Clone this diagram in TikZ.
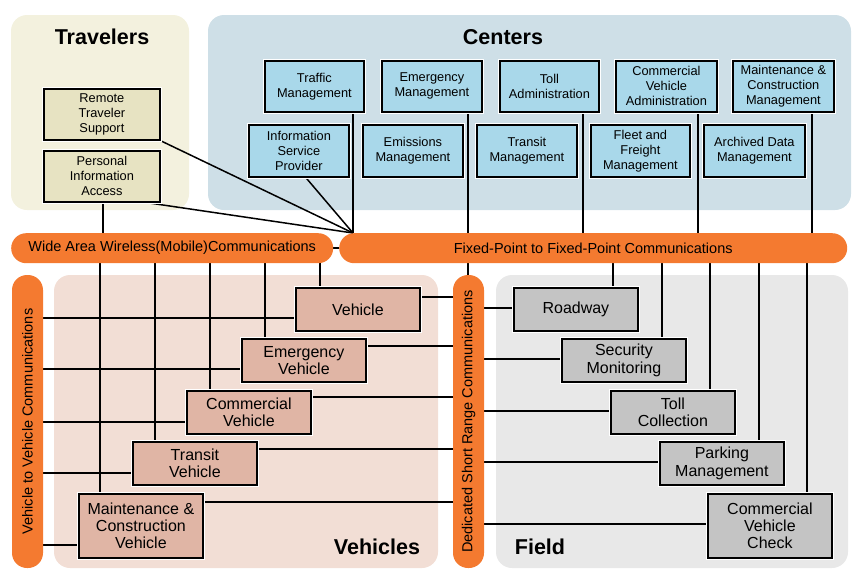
\documentclass[tikz,border=0pt]{standalone}
\usepackage{fontspec}
\setmainfont{Liberation Sans}
\definecolor{travbg}{HTML}{F3F1DE}
\definecolor{travbox}{HTML}{E7E3C2}
\definecolor{centbg}{HTML}{CEDFE7}
\definecolor{centbox}{HTML}{A9D8EA}
\definecolor{vehbg}{HTML}{F2DED5}
\definecolor{vehbox}{HTML}{E0B5A5}
\definecolor{fldbg}{HTML}{E8E8E8}
\definecolor{fldbox}{HTML}{C4C4C4}
\definecolor{busor}{HTML}{F47A30}
\pgfdeclarelayer{regions}
\pgfdeclarelayer{wires}
\pgfsetlayers{regions,wires,main}
\begin{document}
\begin{tikzpicture}[x=1pt,y=-1pt,
  region/.style={rounded corners=16pt},
  box/.style={draw=black, line width=1.8pt, anchor=north west, inner sep=0pt, align=center,
     preaction={draw=white, line width=4pt}},
  sbox/.style={box, font=\fontsize{12.8}{15}\selectfont},
  lbox/.style={box, font=\fontsize{16}{17.3}\selectfont},
  tbox/.style={sbox, fill=travbox},
  cbox/.style={sbox, fill=centbox},
  vbox/.style={lbox, fill=vehbox},
  fbox/.style={lbox, fill=fldbox},
  bus/.style={fill=busor, rounded corners=15pt, inner sep=0pt, font=\fontsize{14.5}{16}\selectfont},
  title/.style={font=\fontsize{21.5}{24}\selectfont\bfseries},
  wire/.style={line width=1.5pt}]
\useasboundingbox (0,0) rectangle (862,573);

% regions
\begin{pgfonlayer}{regions}
\fill[region, travbg] (11,15) rectangle (189,210);
\fill[region, centbg] (208,15) rectangle (851,210);
\fill[region, vehbg] (54,275) rectangle (438,568);
\fill[region, fldbg] (496,275) rectangle (848,568);
\end{pgfonlayer}

% titles
\node[title] (ttrav) at (102,37) {Travelers};
\node[title] (tcent) at (503,37) {Centers};
\node[title] (tveh) at (377,547) {Vehicles};
\node[title] (tfld) at (540,547) {Field};

% travelers
\node[tbox, minimum width=116pt, minimum height=51pt] (rts) at (43,88) {Remote\\Traveler\\Support};
\node[tbox, minimum width=116pt, minimum height=51pt] (pia) at (43,150) {Personal\\Information\\Access};

% centers
\node[cbox, minimum width=99pt, minimum height=51pt] (tm) at (264,60) {Traffic\\Management};
\node[cbox, minimum width=100pt, minimum height=52pt] (isp) at (248,124) {Information\\Service\\Provider};
\node[cbox, minimum width=100pt, minimum height=51pt] (em) at (381,60) {Emergency\\Management};
\node[cbox, minimum width=100pt, minimum height=52pt] (emis) at (362,124) {Emissions\\Management};
\node[cbox, minimum width=99pt, minimum height=51pt] (ta) at (499,60) {Toll\\Administration};
\node[cbox, minimum width=100pt, minimum height=52pt] (trm) at (476,124) {Transit\\Management};
\node[cbox, minimum width=101pt, minimum height=51pt] (cva) at (615,60) {Commercial\\Vehicle\\Administration};
\node[cbox, minimum width=99pt, minimum height=52pt] (ffm) at (590,124) {Fleet and\\Freight\\Management};
\node[cbox, minimum width=101pt, minimum height=51pt] (mcm) at (732,60) {Maintenance \&\\Construction\\Management};
\node[cbox, minimum width=101pt, minimum height=52pt] (adm) at (703,124) {Archived Data\\Management};

% buses
\node[bus, anchor=north west, minimum width=322pt, minimum height=30pt] (wide) at (11,233) {Wide Area Wireless(Mobile)Communications};
\node[bus, anchor=north west, minimum width=508pt, minimum height=30pt] (fixed) at (339,233) {Fixed-Point to Fixed-Point Communications};
\node[bus, rotate=90, minimum width=293pt, minimum height=31pt] (v2v) at (27.5,421.5) {Vehicle to Vehicle Communications};
\node[bus, rotate=90, minimum width=293pt, minimum height=31pt] (dsrc) at (468.5,421.5) {Dedicated Short Range Communications};
\coordinate (hub) at (353,233);

% vehicles
\node[vbox, minimum width=124pt, minimum height=43pt] (veh) at (295,287) {Vehicle};
\node[vbox, minimum width=124pt, minimum height=43pt] (ev) at (241,338) {Emergency\\Vehicle};
\node[vbox, minimum width=124pt, minimum height=43pt] (cv) at (186,390) {Commercial\\Vehicle};
\node[vbox, minimum width=124pt, minimum height=43pt] (tv) at (132,441) {Transit\\Vehicle};
\node[vbox, minimum width=124pt, minimum height=64pt] (mcv) at (78,493) {Maintenance \&\\Construction\\Vehicle};

% field
\node[fbox, minimum width=124pt, minimum height=43pt] (rd) at (513,287) {Roadway};
\node[fbox, minimum width=124pt, minimum height=43pt] (sm) at (561,338) {Security\\Monitoring};
\node[fbox, minimum width=124pt, minimum height=43pt] (tc) at (610,390) {Toll\\Collection};
\node[fbox, minimum width=124pt, minimum height=43pt] (pm) at (659,441) {Parking\\Management};
\node[fbox, minimum width=124pt, minimum height=64pt] (cvc) at (707,493) {Commercial\\Vehicle\\Check};

% wires
\begin{pgfonlayer}{wires}
\draw[wire] (wide.east) -- (fixed.west);
\draw[wire] (tm.south -| hub) -- (hub);
\draw[wire] (isp.south -| 306,0) -- (hub);
\draw[wire] (rts.south east) -- (hub);
\draw[wire] (pia.south -| 148,0) -- (hub);
\draw[wire] (pia.south -| 103,0) -- (103,0 |- wide.center);
\draw[wire] (em.south -| 468,0) -- (468,0 |- dsrc.center);
\draw[wire] (ta.south -| 583,0) -- (583,0 |- fixed.center);
\draw[wire] (cva.south -| 698,0) -- (698,0 |- fixed.center);
\draw[wire] (mcm.south -| 812,0) -- (812,0 |- fixed.center);
% wide bus down to vehicles
\draw[wire] (100,0 |- wide.center) -- (100,0 |- mcv.north);
\draw[wire] (155,0 |- wide.center) -- (155,0 |- tv.north);
\draw[wire] (210,0 |- wide.center) -- (210,0 |- cv.north);
\draw[wire] (265,0 |- wide.center) -- (265,0 |- ev.north);
\draw[wire] (320,0 |- wide.center) -- (320,0 |- veh.north);
% vehicle to vehicle
\draw[wire] (v2v.center |- 0,318) -- (veh.west |- 0,318);
\draw[wire] (v2v.center |- 0,369) -- (ev.west |- 0,369);
\draw[wire] (v2v.center |- 0,422) -- (cv.west |- 0,422);
\draw[wire] (v2v.center |- 0,473) -- (tv.west |- 0,473);
\draw[wire] (v2v.center |- 0,545) -- (mcv.west |- 0,545);
% vehicles to dsrc
\draw[wire] (veh.east |- 0,297) -- (dsrc.center |- 0,297);
\draw[wire] (ev.east |- 0,346) -- (dsrc.center |- 0,346);
\draw[wire] (cv.east |- 0,397) -- (dsrc.center |- 0,397);
\draw[wire] (tv.east |- 0,449) -- (dsrc.center |- 0,449);
\draw[wire] (mcv.east |- 0,502) -- (dsrc.center |- 0,502);
% fixed bus to field
\draw[wire] (613,0 |- fixed.center) -- (613,0 |- rd.north);
\draw[wire] (662,0 |- fixed.center) -- (662,0 |- sm.north);
\draw[wire] (710,0 |- fixed.center) -- (710,0 |- tc.north);
\draw[wire] (759,0 |- fixed.center) -- (759,0 |- pm.north);
\draw[wire] (807,0 |- fixed.center) -- (807,0 |- cvc.north);
% dsrc to field
\draw[wire] (dsrc.center |- 0,308) -- (rd.west |- 0,308);
\draw[wire] (dsrc.center |- 0,359) -- (sm.west |- 0,359);
\draw[wire] (dsrc.center |- 0,411) -- (tc.west |- 0,411);
\draw[wire] (dsrc.center |- 0,462) -- (pm.west |- 0,462);
\draw[wire] (dsrc.center |- 0,524) -- (cvc.west |- 0,524);
\end{pgfonlayer}
\end{tikzpicture}
\end{document}
